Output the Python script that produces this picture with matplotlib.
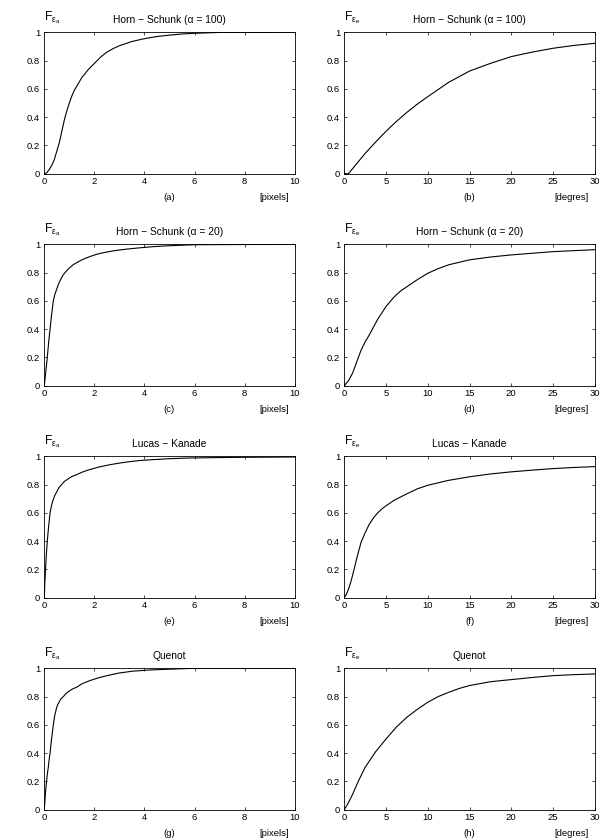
import matplotlib
matplotlib.use("Agg")
import matplotlib.pyplot as plt

plt.rcParams['font.family'] = ['Liberation Sans', 'DejaVu Sans']
plt.rcParams['mathtext.fontset'] = 'custom'
plt.rcParams['mathtext.rm'] = 'Liberation Sans'
plt.rcParams['mathtext.it'] = 'Liberation Sans'

# ---- data ----
a_x = [0, 0.05, 0.1, 0.2, 0.3, 0.4, 0.5, 0.6, 0.7, 0.8, 0.9, 1.0, 1.1, 1.2, 1.35, 1.5, 1.75,
       2.0, 2.25, 2.5, 2.75, 3.0, 3.5, 4.0, 4.5, 5.0, 5.5, 6.0, 7.0, 10.0]
a_y = [0, 0.0, 0.008, 0.03, 0.06, 0.1, 0.16, 0.22, 0.30, 0.38, 0.445, 0.5, 0.55, 0.59, 0.635, 0.68, 0.735,
       0.78, 0.825, 0.86, 0.885, 0.905, 0.935, 0.955, 0.97, 0.98, 0.988, 0.993, 0.999, 1.0]

b_x = [0, 0.5, 1.5, 2.5, 3.75, 5, 6.25, 7.5, 8.75, 10, 12.5, 15, 17.5, 20, 22.5, 25, 27.5, 30]
b_y = [0, 0.0, 0.072, 0.144, 0.224, 0.30, 0.37, 0.434, 0.492, 0.545, 0.646, 0.726, 0.78, 0.828, 0.86, 0.887, 0.907, 0.922]

c_x = [0, 0.03, 0.06, 0.12, 0.17, 0.23, 0.29, 0.36, 0.42, 0.49, 0.57, 0.65, 0.74, 0.83, 0.94, 1.05, 1.15,
       1.29, 1.5, 1.7, 1.9, 2.1, 2.4, 2.8, 3.3, 3.8, 4.4, 5, 6, 10]
c_y = [0, 0.05, 0.1, 0.2, 0.3, 0.4, 0.5, 0.6, 0.645, 0.68, 0.72, 0.75, 0.78, 0.8, 0.822, 0.84, 0.855,
       0.87, 0.89, 0.905, 0.918, 0.93, 0.942, 0.955, 0.966, 0.975, 0.984, 0.99, 0.997, 1.0]

d_x = [0, 0.5, 1, 1.5, 2, 2.5, 3, 3.5, 4, 4.5, 5, 5.5, 6, 6.75, 7.5, 8.75, 10, 11.25, 12.5, 15, 17.5, 20, 25, 30]
d_y = [0, 0.035, 0.09, 0.17, 0.25, 0.31, 0.36, 0.415, 0.47, 0.515, 0.56, 0.595, 0.63, 0.67, 0.70, 0.75,
       0.795, 0.828, 0.855, 0.89, 0.91, 0.925, 0.948, 0.962]

e_x = [0, 0.02, 0.05, 0.08, 0.12, 0.17, 0.23, 0.28, 0.33, 0.41, 0.5, 0.59, 0.69, 0.8, 0.95, 1.1, 1.29, 1.5,
       1.7, 1.95, 2.2, 2.6, 3.0, 3.4, 3.8, 4.4, 5.0, 5.8, 7, 8, 10]
e_y = [0, 0.1, 0.2, 0.3, 0.4, 0.5, 0.6, 0.645, 0.68, 0.72, 0.75, 0.78, 0.8, 0.822, 0.84, 0.857, 0.87, 0.887,
       0.9, 0.913, 0.925, 0.94, 0.952, 0.962, 0.97, 0.977, 0.983, 0.988, 0.991, 0.993, 0.995]

f_x = [0, 0.25, 0.5, 0.75, 1, 1.5, 2, 2.5, 3, 3.5, 4, 4.5, 5, 6, 7.5, 8.75, 10, 12.5, 15, 17.5, 20, 22.5, 25, 27.5, 30]
f_y = [0, 0.025, 0.06, 0.105, 0.16, 0.28, 0.39, 0.46, 0.52, 0.565, 0.60, 0.628, 0.65, 0.69, 0.735, 0.77,
       0.795, 0.83, 0.855, 0.875, 0.89, 0.902, 0.913, 0.921, 0.927]

g_x = [0, 0.02, 0.04, 0.06, 0.09, 0.12, 0.16, 0.19, 0.23, 0.29, 0.36, 0.42, 0.49, 0.54, 0.6, 0.67, 0.76,
       0.87, 1.0, 1.14, 1.29, 1.5, 1.82, 2.15, 2.5, 3.0, 3.55, 4.2, 4.9, 6, 10]
g_y = [0, 0.05, 0.1, 0.15, 0.2, 0.25, 0.3, 0.35, 0.4, 0.5, 0.6, 0.67, 0.72, 0.745, 0.765, 0.785, 0.8,
       0.822, 0.84, 0.855, 0.866, 0.89, 0.913, 0.932, 0.948, 0.967, 0.98, 0.988, 0.993, 1.0, 1.0]

h_x = [0, 0.5, 1, 1.75, 2.5, 3.75, 5, 6.25, 7.5, 8.75, 10, 11.25, 12.5, 13.75, 15, 17.5, 20, 22.5, 25, 27.5, 30]
h_y = [0, 0.05, 0.11, 0.21, 0.30, 0.41, 0.50, 0.585, 0.654, 0.71, 0.76, 0.8, 0.83, 0.857, 0.878, 0.905,
       0.92, 0.935, 0.948, 0.955, 0.96]

titles = ["Horn \u2212 Schunk (\u03b1 = 100)", "Horn \u2212 Schunk (\u03b1 = 100)",
          "Horn \u2212 Schunk (\u03b1 = 20)", "Horn \u2212 Schunk (\u03b1 = 20)",
          "Lucas \u2212 Kanade", "Lucas \u2212 Kanade",
          "Quenot", "Quenot"]
letters = ["(a)", "(b)", "(c)", "(d)", "(e)", "(f)", "(g)", "(h)"]
units = ["[pixels]", "[degres]"]
ylabels = [r"$\mathrm{F}_{\varepsilon_{\mathrm{a}}}$", r"$\mathrm{F}_{\varepsilon_{\mathrm{e}}}$"]
xticks_left = [0, 2, 4, 6, 8, 10]
xticks_right = [0, 5, 10, 15, 20, 25, 30]
yticks = [0, 0.2, 0.4, 0.6, 0.8, 1]
ytick_labels = ["0", "0.2", "0.4", "0.6", "0.8", "1"]

series = [(a_x, a_y), (b_x, b_y), (c_x, c_y), (d_x, d_y),
          (e_x, e_y), (f_x, f_y), (g_x, g_y), (h_x, h_y)]

W, H = 608, 839
fig = plt.figure(figsize=(W / 100, H / 100), dpi=100)

lefts = [44.3, 344.3]
ax_w = 250.4
tops = [32.3, 244.3, 456.3, 668.3]
ax_h = 141.4
fs = 6.8
fs_title = 7.4

for i, (xs, ys) in enumerate(series):
    row, col = divmod(i, 2)
    ax = fig.add_axes([lefts[col] / W, 1 - (tops[row] + ax_h) / H, ax_w / W, ax_h / H])
    ax.plot(xs, ys, color='black', lw=0.8)
    if col == 0:
        ax.set_xlim(0, 10)
        ax.set_xticks(xticks_left)
        ax.set_xticklabels([str(t) for t in xticks_left])
    else:
        ax.set_xlim(0, 30)
        ax.set_xticks(xticks_right)
        ax.set_xticklabels([str(t) for t in xticks_right])
    ax.set_ylim(0, 1)
    ax.set_yticks(yticks)
    ax.set_yticklabels(ytick_labels)
    ax.tick_params(direction='in', length=2.5, width=0.5, top=True, right=True,
                   labelsize=fs, color='black')
    ax.tick_params(axis='x', pad=2.5)
    ax.tick_params(axis='y', pad=3)
    for s in ax.spines.values():
        s.set_linewidth(0.6)
        s.set_color('black')
    ax.set_title(titles[i], fontsize=fs_title, pad=7)
    ax.text(0.5, -24 / ax_h, letters[i], transform=ax.transAxes, ha='center', va='center', fontsize=fs)
    ax.text(1 - 6 / ax_w, -24 / ax_h, units[col], transform=ax.transAxes, ha='right', va='center', fontsize=fs)
    ax.text(0.0, 1 + 12 / ax_h, ylabels[col], transform=ax.transAxes, ha='left', va='baseline', fontsize=8.8)

fig.savefig("out.png", dpi=100)
